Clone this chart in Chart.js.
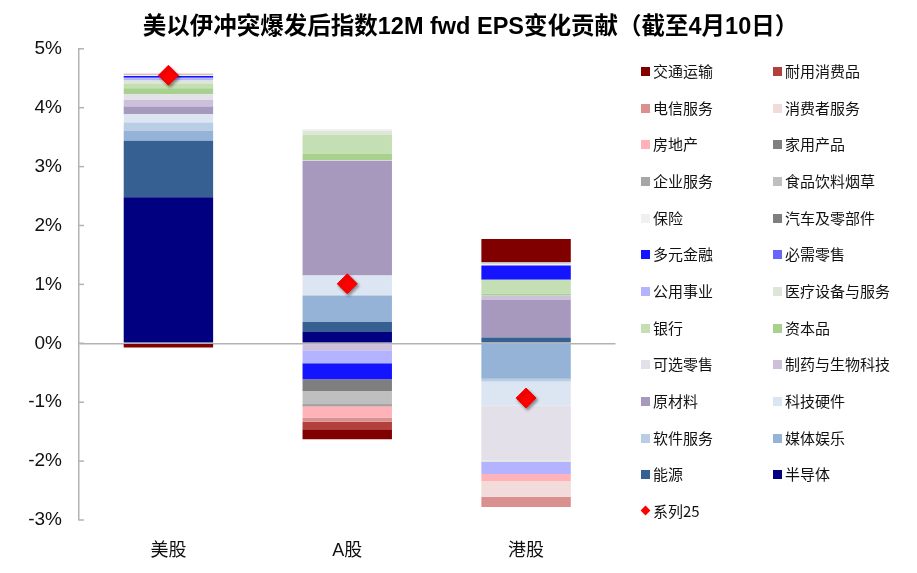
<!DOCTYPE html>
<html><head><meta charset="utf-8">
<script src="https://cdn.jsdelivr.net/npm/chart.js@4"></script>
<style>
html,body{margin:0;padding:0;background:#fff;}
#wrap{position:relative;width:917px;height:573px;}
#legend{position:absolute;left:0;top:0;width:917px;height:573px;pointer-events:none;font-family:"Noto Sans CJK SC","Liberation Sans",sans-serif;font-size:15px;color:#111;}
.li{position:absolute;white-space:nowrap;height:18px;line-height:18px;}
.sw{position:absolute;left:0;top:5px;width:9px;height:9px;}
.dm{position:absolute;left:1px;top:5.5px;width:7px;height:7px;transform:rotate(45deg);background:#ff0000;}
.tx{position:absolute;left:12px;top:0;}
</style></head>
<body><div id="wrap"><canvas id="c"></canvas><div id="legend"></div></div>
<script>
// ---- data ----
const categories = ['美股', 'A股', '港股'];
// series in stacking order (first = closest to zero)
const seriesNames = ['半导体','能源','媒体娱乐','软件服务','科技硬件','原材料','制药与生物科技','可选零售','资本品','银行','医疗设备与服务','公用事业','必需零售','多元金融','汽车及零部件','保险','食品饮料烟草','企业服务','家用产品','房地产','消费者服务','电信服务','耐用消费品','交通运输'];
const usValues     = [2.48, 0.96, 0.17, 0.14, 0.14, 0.13, 0.11, 0.10, 0.10, 0.08, 0.05, 0.04, 0.02, 0.02, 0.00, 0.01, 0.01, 0.01, 0.00, 0.01, 0.00, 0.00, 0.00, -0.07];
const aShareValues = [0.19, 0.17, 0.45, 0.00, 0.34, 1.95, -0.12, 0.01, 0.11, 0.32, 0.07, -0.22, 0.00, -0.27, -0.20, 0.03, -0.22, -0.02, -0.02, -0.19, 0.00, -0.07, -0.13, -0.17];
const hkValues     = [0.00, 0.10, -0.60, -0.05, -0.40, 0.64, 0.07, -0.94, 0.03, 0.24, -0.02, -0.21, 0.00, 0.24, 0.00, 0.03, 0.03, 0.00, 0.00, -0.12, -0.27, -0.17, 0.00, 0.39];
const markerName = '系列25';
const markerValues = [4.55, 1.01, -0.93];
const yTickLabels = ['-3%', '-2%', '-1%', '0%', '1%', '2%', '3%', '4%', '5%'];
const yMin = -3, yMax = 5;

// ---- styles ----
const seriesColors = ['#000080','#366092','#95b3d7','#b9cde5','#dce6f2','#a799bd','#ccc0da','#e4e0ea','#a9d18e','#c4dfb3','#dde6d8','#b3b3ff','#6666ff','#1414ff','#7f7f7f','#f0f0f0','#bfbfbf','#a6a6a6','#808080','#ffb3b8','#f2dcdb','#d9908e','#b3403d','#800000'];
const FONT = '"Liberation Sans","Noto Sans CJK SC",sans-serif';

const datasets = seriesNames.map((name, i) => ({
  type: 'bar',
  label: name,
  data: [usValues[i], aShareValues[i], hkValues[i]],
  backgroundColor: seriesColors[i],
  borderWidth: 0,
  stack: 'eps',
  barPercentage: 0.5,
  categoryPercentage: 1.0,
  order: 0
}));
datasets.push({
  type: 'line',
  label: markerName,
  data: markerValues,
  showLine: false,
  stack: 'marker',
  pointStyle: 'rectRot',
  pointRadius: 10,
  pointHoverRadius: 10,
  pointBackgroundColor: '#ff0000',
  pointBorderColor: '#ff0000',
  pointBorderWidth: 1,
  order: -1
});

const markerShadow = {
  id: 'markerShadow',
  beforeDatasetDraw(chart, args) {
    if (chart.data.datasets[args.index].type === 'line') {
      const c = chart.ctx; c.save();
      c.shadowColor = 'rgba(0,0,0,0.4)'; c.shadowBlur = 3; c.shadowOffsetX = 1.5; c.shadowOffsetY = 2;
    }
  },
  afterDatasetDraw(chart, args) {
    if (chart.data.datasets[args.index].type === 'line') chart.ctx.restore();
  }
};
const tickMarks = {
  id: 'tickMarks',
  afterDraw(chart) {
    const y = chart.scales.y, c = chart.ctx;
    c.save(); c.strokeStyle = '#b3b3b3'; c.lineWidth = 1.5;
    y.ticks.forEach(t => {
      const py = y.getPixelForValue(t.value);
      c.beginPath(); c.moveTo(y.right, py); c.lineTo(y.right + 5, py); c.stroke();
    });
    c.restore();
  }
};

new Chart(document.getElementById('c'), {
  data: { labels: categories, datasets },
  plugins: [markerShadow, tickMarks],
  options: {
    responsive: true,
    maintainAspectRatio: false,
    animation: false,
    layout: { padding: { left: 24, right: 0, top: 0, bottom: 0 } },
    plugins: {
      legend: { display: false },
      tooltip: { enabled: false },
      title: {
        display: true,
        text: '美以伊冲突爆发后指数12M fwd EPS变化贡献（截至4月10日）',
        color: '#000',
        font: { size: 23.5, weight: 'bold', family: FONT },
        padding: { top: 13, bottom: 7.6 }
      }
    },
    scales: {
      x: {
        stacked: true,
        grid: { display: false },
        border: { display: false },
        ticks: { color: '#111', font: { size: 18, family: FONT }, padding: 12 },
        afterFit(s) { s.height = 53; }
      },
      y: {
        stacked: true,
        position: 'left',
        min: yMin, max: yMax,
        ticks: {
          stepSize: 1,
          color: '#111',
          font: { size: 19, family: FONT },
          padding: 17,
          callback: (v) => yTickLabels[Math.round(v - yMin)]
        },
        grid: {
          drawTicks: false,
          lineWidth: 1.5,
          color: (ctx) => (ctx.tick && ctx.tick.value === 0) ? '#b3b3b3' : 'rgba(0,0,0,0)'
        },
        border: { display: true, color: '#b3b3b3', width: 1.5 },
        afterFit(s) { s.width = 55; }
      },
      y2: {
        position: 'right',
        display: true,
        grid: { display: false },
        border: { display: false },
        ticks: { display: false },
        afterFit(s) { s.width = 301.5; }
      }
    }
  }
});

// ---- HTML legend (two columns, row-major, reversed series order) ----
const legendEl = document.getElementById('legend');
const legendItems = seriesNames.map((n, i) => ({ name: n, color: seriesColors[i] })).reverse();
legendItems.push({ name: markerName, marker: true });
legendItems.forEach((it, k) => {
  const row = Math.floor(k / 2), col = k % 2;
  const d = document.createElement('div');
  d.className = 'li';
  d.style.left = (col === 0 ? 641 : 773) + 'px';
  d.style.top = (71 + row * 36.65 - 9) + 'px';
  const sw = document.createElement('div');
  if (it.marker) { sw.className = 'dm'; } else { sw.className = 'sw'; sw.style.background = it.color; }
  const tx = document.createElement('div');
  tx.className = 'tx';
  tx.textContent = it.name;
  d.appendChild(sw); d.appendChild(tx);
  legendEl.appendChild(d);
});
</script>
</body></html>
